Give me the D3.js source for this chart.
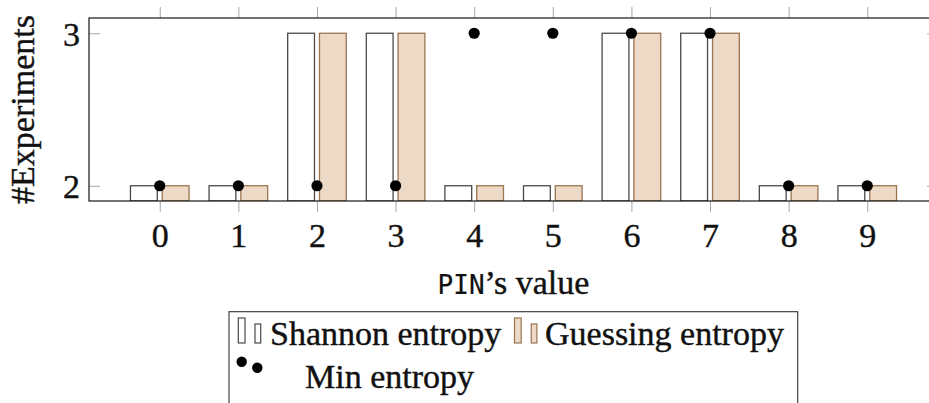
<!DOCTYPE html>
<html>
<head>
<meta charset="utf-8">
<script src="https://cdn.jsdelivr.net/npm/d3@7/dist/d3.min.js"></script>
<style>
  html, body { margin: 0; padding: 0; background: #fff; }
  svg { display: block; }
  text { font-family: "Liberation Serif", "Times New Roman", serif; fill: #111; stroke: #111; stroke-width: 0.4px; }
  .mono { font-family: "DejaVu Sans Mono", "Liberation Mono", monospace; stroke-width: 0.2px; }
</style>
</head>
<body>
<svg id="chart" width="929" height="403"></svg>
<script>
// PIN digit under test
const pinValues = [0, 1, 2, 3, 4, 5, 6, 7, 8, 9];
// number of experiments needed per entropy measure
const shannonEntropy  = [2, 2, 3, 3, 2, 2, 3, 3, 2, 2];
const guessingEntropy = [2, 2, 3, 3, 2, 2, 3, 3, 2, 2];
const minEntropy      = [2, 2, 2, 2, 3, 3, 3, 3, 2, 2];
const yTickValues = [2, 3];
const seriesNames = ["Shannon entropy", "Guessing entropy", "Min entropy"];

const FONT = 34;
const svg = d3.select("#chart");

const plot = { left: 89, right: 938, top: 18, bottom: 201 };

const x = d3.scaleLinear().domain([-0.9, 9.9]).range([plot.left, plot.right]);
const y = d3.scaleLinear().domain([1.9, 3.1]).range([plot.bottom, plot.top]);

const barWidth = 26.8;
const barShift = 15.9;

const shannonStyle  = { fill: "#ffffff", stroke: "#4a4a4a" };
const guessingStyle = { fill: "#ecdac6", stroke: "#9a7550" };
const tickColor = "#a8a8a8";

// clip bars to the plotting area
svg.append("defs").append("clipPath").attr("id", "plotClip")
  .append("rect")
  .attr("x", plot.left).attr("y", plot.top)
  .attr("width", plot.right - plot.left).attr("height", plot.bottom - plot.top);

const marks = svg.append("g").attr("clip-path", "url(#plotClip)");

function drawBars(values, shift, style) {
  marks.append("g")
    .selectAll("rect")
    .data(values)
    .join("rect")
    .attr("x", (d, i) => x(pinValues[i]) + shift - barWidth / 2)
    .attr("y", d => y(d))
    .attr("width", barWidth)
    .attr("height", d => y(y.domain()[0]) - y(d))
    .attr("fill", style.fill)
    .attr("stroke", style.stroke)
    .attr("stroke-width", 1.3);
}

drawBars(shannonEntropy, -barShift, shannonStyle);
drawBars(guessingEntropy, barShift, guessingStyle);

// min entropy as marks only, in the middle slot of each group
marks.append("g")
  .selectAll("circle")
  .data(minEntropy)
  .join("circle")
  .attr("cx", (d, i) => x(pinValues[i]))
  .attr("cy", d => y(d))
  .attr("r", 5.6)
  .attr("fill", "#000");

// axes
const tickLen = 11;

const gBottom = svg.append("g")
  .attr("transform", `translate(0,${plot.bottom})`)
  .call(d3.axisBottom(x).tickValues(pinValues).tickSize(tickLen).tickFormat(d3.format("d")));
gBottom.select(".domain").remove();
gBottom.selectAll("line").attr("stroke", tickColor);
gBottom.selectAll("text")
  .attr("y", 45.5).attr("dy", null)
  .attr("font-size", FONT)
  .attr("font-family", "Liberation Serif, serif")
  .attr("fill", "#111");

const gTop = svg.append("g")
  .attr("transform", `translate(0,${plot.top})`)
  .call(d3.axisTop(x).tickValues(pinValues).tickSize(tickLen).tickFormat(""));
gTop.select(".domain").remove();
gTop.selectAll("line").attr("stroke", tickColor);

const gLeft = svg.append("g")
  .attr("transform", `translate(${plot.left},0)`)
  .call(d3.axisLeft(y).tickValues(yTickValues).tickSize(-tickLen).tickFormat(d3.format("d")));
gLeft.select(".domain").remove();
gLeft.selectAll("line").attr("stroke", tickColor);
gLeft.selectAll("text")
  .attr("x", -9).attr("dy", null).attr("y", 12)
  .attr("font-size", FONT)
  .attr("font-family", "Liberation Serif, serif")
  .attr("fill", "#111");

const gRight = svg.append("g")
  .attr("transform", `translate(${plot.right},0)`)
  .call(d3.axisRight(y).tickValues(yTickValues).tickSize(-tickLen).tickFormat(""));
gRight.select(".domain").remove();
gRight.selectAll("line").attr("stroke", tickColor);

// frame
svg.append("rect")
  .attr("x", plot.left).attr("y", plot.top)
  .attr("width", plot.right - plot.left).attr("height", plot.bottom - plot.top)
  .attr("fill", "none").attr("stroke", "#000").attr("stroke-width", 1.1);

// axis titles
svg.append("text")
  .attr("transform", `translate(34,${(plot.top + plot.bottom) / 2}) rotate(-90)`)
  .attr("text-anchor", "middle")
  .attr("font-size", FONT)
  .text("#Experiments");

const xTitle = svg.append("text")
  .attr("x", (plot.left + plot.right) / 2)
  .attr("y", 294)
  .attr("text-anchor", "middle")
  .attr("font-size", FONT);
xTitle.append("tspan").attr("class", "mono").attr("font-size", 26).text("PIN");
xTitle.append("tspan").text("\u2019s value");

// legend
const legend = svg.append("g");
legend.append("rect")
  .attr("x", 229).attr("y", 311.7)
  .attr("width", 568.7).attr("height", 120)
  .attr("fill", "#fff").attr("stroke", "#333").attr("stroke-width", 1.1);

function legendBars(x0, style) {
  const g = legend.append("g");
  g.append("rect").attr("x", x0).attr("y", 318).attr("width", 6.7).attr("height", 25)
    .attr("fill", style.fill).attr("stroke", style.stroke).attr("stroke-width", 1.2);
  g.append("rect").attr("x", x0 + 16.7).attr("y", 324).attr("width", 5.7).attr("height", 19)
    .attr("fill", style.fill).attr("stroke", style.stroke).attr("stroke-width", 1.2);
}
legendBars(238.3, shannonStyle);
legendBars(514.5, guessingStyle);

legend.append("text").attr("x", 270).attr("y", 345).attr("font-size", FONT).text(seriesNames[0]);
legend.append("text").attr("x", 545).attr("y", 345).attr("font-size", FONT).text(seriesNames[1]);

legend.append("circle").attr("cx", 241.7).attr("cy", 361.7).attr("r", 5.2).attr("fill", "#000");
legend.append("circle").attr("cx", 257.3).attr("cy", 367.7).attr("r", 5.2).attr("fill", "#000");
legend.append("text").attr("x", 305).attr("y", 388).attr("font-size", FONT).text(seriesNames[2]);
</script>
</body>
</html>
